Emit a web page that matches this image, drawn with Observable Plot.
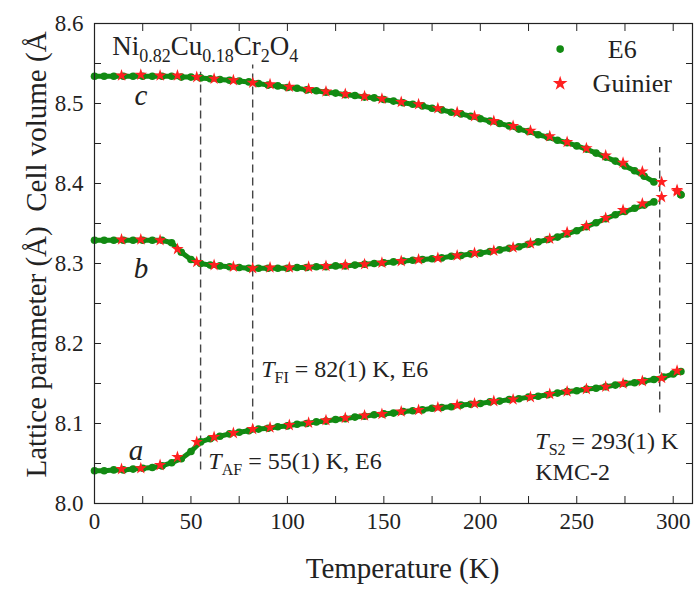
<!DOCTYPE html>
<html><head><meta charset="utf-8">
<script src="https://cdn.jsdelivr.net/npm/d3@7"></script>
<script src="https://cdn.jsdelivr.net/npm/@observablehq/plot@0.6"></script>
<style>
body{margin:0;background:#fff;}
#chart svg{display:block;}
</style>
</head><body><div id="chart"></div>
<script>
// ---- data ----
const series = ["E6", "Guinier"];
const curveNames = ["a", "b", "c"];
const e6T = [0,5,10,15,20,25,30,35,40,45,50,55,60,65,70,75,80,85,90,95,100,105,110,115,120,125,130,135,140,145,150,155,160,165,170,175,180,185,190,195,200,205,210,215,220,225,230,235,240,245,250,255,260,265,270,275,280,285,290,295,300,304];
const e6A = [8.041,8.041,8.042,8.042,8.043,8.044,8.045,8.047,8.051,8.056,
             8.065,8.077,8.081,8.084,8.087,8.089,8.091,8.093,8.094,8.096,
             8.097,8.099,8.100,8.102,8.103,8.105,8.106,8.108,8.109,8.111,
             8.112,8.113,8.115,8.116,8.117,8.119,8.120,8.121,8.123,8.124,
             8.125,8.127,8.128,8.130,8.131,8.133,8.134,8.136,8.138,8.140,
             8.141,8.143,8.144,8.146,8.148,8.150,8.151,8.153,8.155,
             8.158,8.162,8.165];
const e6B = [8.329,8.329,8.329,8.329,8.329,8.329,8.329,8.329,8.326,8.314,
             8.305,8.300,8.298,8.297,8.296,8.295,8.294,8.294,8.294,8.294,
             8.294,8.295,8.295,8.296,8.296,8.297,8.297,8.298,8.299,8.300,
             8.301,8.302,8.303,8.304,8.305,8.306,8.307,8.309,8.310,8.312,
             8.313,8.315,8.317,8.319,8.321,8.324,8.327,8.330,8.333,8.337,
             8.341,8.346,8.351,8.356,8.361,8.365,8.369,8.373,8.377,
             null,null,8.386];
const e6C = [8.534,8.534,8.534,8.534,8.534,8.534,8.534,8.534,8.534,8.533,
             8.533,8.532,8.531,8.530,8.529,8.528,8.527,8.525,8.523,8.522,
             8.520,8.519,8.517,8.516,8.514,8.513,8.511,8.510,8.508,8.507,
             8.505,8.503,8.501,8.499,8.497,8.494,8.492,8.489,8.487,8.484,
             8.481,8.478,8.475,8.472,8.468,8.465,8.461,8.458,8.454,8.451,
             8.447,8.443,8.438,8.433,8.428,8.422,8.416,8.409,8.402,
             null,null,8.386];
const guinierT = [14,24,34,43,53,62,72,82,91,101,111,120,130,140,149,159,168,178,188,197,207,217,226,236,245,255,265,274,284,294,302];
const guinierA = [8.043,8.044,8.048,8.058,8.077,8.083,8.088,8.093,8.095,8.098,8.101,8.104,8.107,8.110,8.112,8.115,8.117,8.120,8.123,8.125,8.128,8.130,8.133,8.137,8.140,8.143,8.146,8.150,8.153,8.157,8.166];
const guinierB = [8.330,8.330,8.329,8.318,8.302,8.298,8.296,8.294,8.295,8.295,8.296,8.297,8.298,8.299,8.301,8.303,8.305,8.307,8.310,8.313,8.316,8.320,8.325,8.331,8.339,8.347,8.357,8.367,8.375,8.383,8.390];
const guinierC = [8.535,8.536,8.535,8.535,8.533,8.531,8.529,8.526,8.524,8.521,8.518,8.515,8.512,8.509,8.506,8.502,8.499,8.494,8.489,8.484,8.478,8.472,8.466,8.459,8.452,8.444,8.435,8.426,8.415,8.402,8.392];
const transT = [55, 82, 293];
const xTicks = [0,50,100,150,200,250,300];
const xMinor = [0,25,50,75,100,125,150,175,200,225,250,275,300];
const yTicks = [8.0,8.1,8.2,8.3,8.4,8.5,8.6];
const yMinor = [8.0,8.05,8.1,8.15,8.2,8.25,8.3,8.35,8.4,8.45,8.5,8.55,8.6];
const title = "Ni_{0.82}Cu_{0.18}Cr_{2}O_{4}";
const annotations = ["*T*_{FI} = 82(1) K, E6", "*T*_{AF} = 55(1) K, E6", "*T*_{S2} = 293(1) K", "KMC-2"];
const xLabel = "Temperature (K)";
const yLabel = "Lattice parameter (Å)\u00a0 Cell volume (Å";

// ---- tables ----
const plain = s => s.replace(/\*|_\{|\}/g, "");
const e6Rows = [], gRows = [];
[e6A, e6B, e6C].forEach((arr, k) => arr.forEach((v, i) => e6Rows.push({T: e6T[i], v, curve: curveNames[k]})));
[guinierA, guinierB, guinierC].forEach((arr, k) => arr.forEach((v, i) => gRows.push({T: guinierT[i], v, curve: curveNames[k]})));

const GREEN = "#128a12", RED = "#ff2020", INK = "#222";
const FONT = "Liberation Serif";
const FONT_IT = "Times New Roman";

const plot = Plot.plot({
  width: 697, height: 592,
  marginLeft: 94, marginRight: 5, marginTop: 23, marginBottom: 89,
  x: {domain: [0, 310], axis: null},
  y: {domain: [8.0, 8.6], axis: null},
  style: {fontFamily: FONT, fontSize: "23px", background: "#fff", color: INK},
  marks: [
    Plot.ruleX(transT.map((T, i) => ({T, lo: [8.042, 8.088, 8.113][i], hi: [8.539, 8.548, 8.445][i]})),
      {x: "T", y1: "lo", y2: "hi", stroke: "#444", strokeWidth: 1.4, strokeDasharray: "8,5"}),
    Plot.line(e6Rows, {x: "T", y: "v", z: "curve", stroke: GREEN, strokeWidth: 5}),
    Plot.dot(e6Rows, {x: "T", y: "v", r: 3.8, fill: GREEN}),
    Plot.dot(gRows, {x: "T", y: "v", symbol: "star", r: 3.9, fill: RED}),
    Plot.frame({stroke: INK, strokeWidth: 1.2}),
    Plot.axisX(xTicks, {anchor: "bottom", tickSize: 0, tickPadding: 9, fontSize: 23, fontFamily: FONT, label: null}),
    Plot.axisX(xMinor, {anchor: "bottom", tickSize: -7, tickFormat: () => "", label: null}),
    Plot.axisX(xMinor, {anchor: "top", tickSize: -7, tickFormat: () => "", label: null}),
    Plot.axisY(yTicks, {anchor: "left", tickSize: 0, tickPadding: 11, fontSize: 23, fontFamily: FONT, tickFormat: d3.format(".1f"), label: null}),
    Plot.axisY(yMinor, {anchor: "left", tickSize: -7, tickFormat: () => "", label: null}),
    Plot.axisY(yMinor, {anchor: "right", tickSize: -7, tickFormat: () => "", label: null}),
    // legend
    Plot.dot([series[0]], {x: 241.4, y: 8.568, r: 3.8, fill: GREEN}),
    Plot.dot([series[1]], {x: 241.4, y: 8.525, r: 4.6, symbol: "star", fill: RED}),
    Plot.text(series, {x: [273.6, 278.8], y: [8.567, 8.525], text: d => d, fontSize: 26, fontFamily: FONT, textAnchor: "middle", fill: INK}),
    // curve labels
    Plot.text(curveNames, {x: [21.5, 24.1, 24.1], y: [8.0658, 8.2933, 8.5095], text: d => d, fontSize: 29, fontFamily: FONT_IT, fontStyle: "italic", fill: INK}),
    // annotations
    Plot.text(annotations, {x: [86.4, 59.0, 228.5, 228.5], y: [8.168, 8.0525, 8.0775, 8.0388], text: plain, fontSize: 24, fontFamily: FONT, textAnchor: "start", fill: INK}),
    Plot.text([title], {x: 9.2, y: 8.5711, text: plain, fontSize: 27, fontFamily: FONT, textAnchor: "start", fill: INK}),
    Plot.text([xLabel], {x: 159.7, frameAnchor: "bottom", dy: 65, lineAnchor: "middle", fontSize: 29, fontFamily: FONT, fill: INK}),
    Plot.text([yLabel], {frameAnchor: "bottom-left", dx: -58, dy: -26, rotate: -90, textAnchor: "start", lineAnchor: "middle", fontSize: 29, fontFamily: FONT, fill: INK})
  ]
});

// rich text (italics, subscripts) built with DOM nodes before the chart is attached
const SVGNS = "http://www.w3.org/2000/svg";
function richify(el, markup, fs) {
  const sub = Math.round(fs * 0.65), shift = Math.round(fs * 0.25);
  let down = false;
  while (el.firstChild) el.removeChild(el.firstChild);
  (markup.match(/\*[^*]+\*|_\{[^}]+\}|[^*_]+/g) || []).forEach(tok => {
    const ts = document.createElementNS(SVGNS, "tspan");
    if (tok.startsWith("_{")) {
      if (!down) ts.setAttribute("dy", shift);
      ts.setAttribute("font-size", sub);
      ts.textContent = tok.slice(2, -1);
      down = true;
    } else {
      const it = tok.startsWith("*");
      if (down) ts.setAttribute("dy", -shift);
      if (it) { ts.setAttribute("font-style", "italic"); ts.setAttribute("font-family", FONT_IT); }
      ts.textContent = it ? tok.slice(1, -1) : tok;
      down = false;
    }
    el.appendChild(ts);
  });
}
const rich = [[title, 27], ...annotations.map(a => [a, 24])];
plot.querySelectorAll("text").forEach(el => {
  const hit = rich.find(([m]) => plain(m) === el.textContent);
  if (hit) richify(el, hit[0], hit[1]);
});
document.getElementById("chart").append(plot);
</script></body></html>
